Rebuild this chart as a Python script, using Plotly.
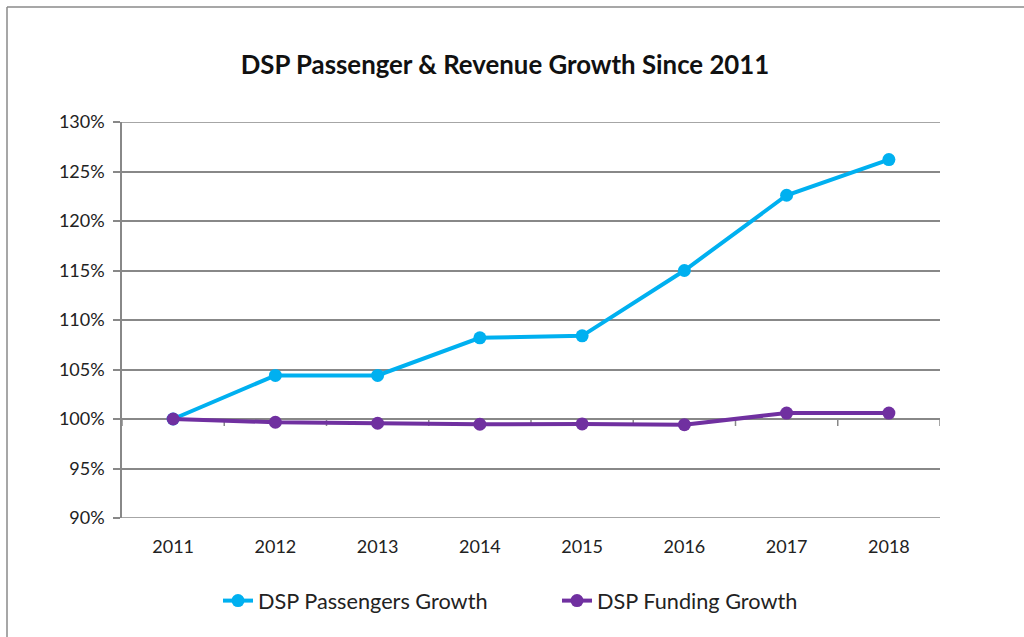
import plotly.graph_objects as go

years = ["2011", "2012", "2013", "2014", "2015", "2016", "2017", "2018"]
passengers = [1.000, 1.044, 1.044, 1.082, 1.084, 1.150, 1.226, 1.262]
funding = [1.000, 0.9967, 0.9957, 0.9947, 0.995, 0.9943, 1.006, 1.006]
y_ticks = [0.90, 0.95, 1.00, 1.05, 1.10, 1.15, 1.20, 1.25, 1.30]

FONT = "Lato"
GRID = "#888888"
BLUE = "#00B0F0"
PURPLE = "#7030A0"

W, H = 1024, 637
L, R, T, B = 122, 84, 122, 119
pw, ph = W - L - R, H - T - B

y0, y1 = 0.90, 1.30

fig = go.Figure()
fig.add_trace(go.Scatter(x=list(range(len(years))), y=passengers, name="DSP Passengers Growth",
                         mode="lines+markers", line=dict(color=BLUE, width=4),
                         marker=dict(size=13, color=BLUE)))
fig.add_trace(go.Scatter(x=list(range(len(years))), y=funding, name="DSP Funding Growth",
                         mode="lines+markers", line=dict(color=PURPLE, width=4),
                         marker=dict(size=13, color=PURPLE)))

boundaries = [i - 0.5 for i in range(len(years) + 1)]

fig.update_layout(
    width=W, height=H,
    margin=dict(l=L, r=R, t=T, b=B, pad=0),
    paper_bgcolor="white", plot_bgcolor="white",
    font=dict(family=FONT, color="#222222", size=18),
    title=dict(text="<b>DSP Passenger & Revenue Growth Since 2011</b>",
               x=(505) / W, xanchor="center", y=1 - 65 / H, yanchor="middle",
               font=dict(size=25.8, family=FONT, color="#111111")),
    showlegend=True,
    legend=dict(orientation="h", x=(218) / W, xref="container", xanchor="left",
                y=1 - 601 / H, yref="container", yanchor="middle",
                font=dict(size=21.7, family=FONT, color="#222222"),
                entrywidth=294, entrywidthmode="pixels", traceorder="normal",
                bgcolor="rgba(0,0,0,0)"),
    xaxis=dict(range=[-0.5, len(years) - 0.5], tickvals=list(range(len(years))), ticktext=years,
               showgrid=False, zeroline=False, showline=False, ticks="",
               ticklabelstandoff=16, tickfont=dict(size=18)),
    yaxis=dict(range=[y0, y1], tickvals=y_ticks, tickformat=".0%",
               showgrid=True, gridcolor=GRID, gridwidth=1.5,
               showline=True, linecolor=GRID, linewidth=1.5,
               ticks="outside", ticklen=7, tickcolor=GRID, tickwidth=1.5,
               zeroline=False, ticklabelstandoff=5, tickfont=dict(size=18)),
)

# gridlines at the range edges (plotly omits them)
for edge in (y0, y1):
    fig.add_shape(type="line", xref="paper", yref="y", x0=0, x1=1, y0=edge, y1=edge,
                  layer="below", line=dict(color=GRID, width=1.5))

# category axis crossing at 100% with tick marks between categories
fig.add_shape(type="line", xref="x", yref="y", x0=boundaries[0], x1=boundaries[-1], y0=1.0, y1=1.0,
              layer="below", line=dict(color=GRID, width=1.5))
for bnd in boundaries:
    fig.add_shape(type="line", xref="x", yref="y", ysizemode="pixel", yanchor=1.0,
                  x0=bnd, x1=bnd, y0=0, y1=-7, layer="below", line=dict(color=GRID, width=1.5))

# outer chart border (left and top edges visible)
bx0 = (7 - L) / pw
by1 = 1 + (T - 7) / ph
fig.add_shape(type="line", xref="paper", yref="paper", x0=bx0, x1=bx0, y0=-1, y1=by1,
              line=dict(color="#8a8a8a", width=1.5))
fig.add_shape(type="line", xref="paper", yref="paper", x0=bx0, x1=2, y0=by1, y1=by1,
              line=dict(color="#8a8a8a", width=1.5))

fig.write_html("out.html")
